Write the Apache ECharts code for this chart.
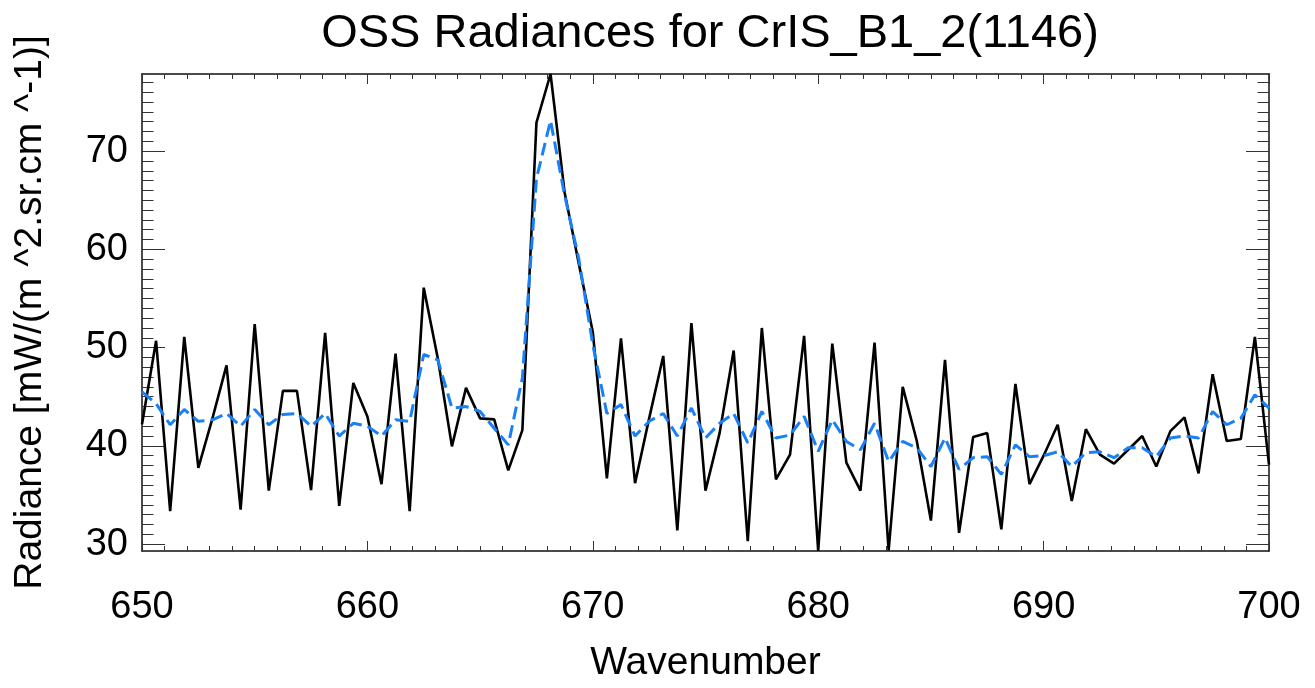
<!DOCTYPE html>
<html>
<head>
<meta charset="utf-8">
<script src="https://cdn.jsdelivr.net/npm/echarts@6/dist/echarts.min.js"></script>
<style>
  html, body { margin: 0; padding: 0; background: #fff; }
  #chart { width: 1315px; height: 688px; }
</style>
</head>
<body>
<div id="chart"></div>
<script>
// CrIS band 1 channel grid (cm^-1)
const wavenumbers = [
  650, 650.625, 651.25, 651.875, 652.5, 653.125, 653.75, 654.375, 655, 655.625, 656.25, 656.875, 657.5, 658.125, 658.75, 659.375,
  660, 660.625, 661.25, 661.875, 662.5, 663.125, 663.75, 664.375, 665, 665.625, 666.25, 666.875, 667.5, 668.125, 668.75, 669.375,
  670, 670.625, 671.25, 671.875, 672.5, 673.125, 673.75, 674.375, 675, 675.625, 676.25, 676.875, 677.5, 678.125, 678.75, 679.375,
  680, 680.625, 681.25, 681.875, 682.5, 683.125, 683.75, 684.375, 685, 685.625, 686.25, 686.875, 687.5, 688.125, 688.75, 689.375,
  690, 690.625, 691.25, 691.875, 692.5, 693.125, 693.75, 694.375, 695, 695.625, 696.25, 696.875, 697.5, 698.125, 698.75, 699.375,
  700
];

// Observed radiances (solid black)
const radianceObs = [
  42.2, 50.7, 33.35, 51.1, 37.75, 42.8, 48.2, 33.5, 52.4, 35.45, 45.6, 45.6, 35.5, 51.5, 33.9, 46.4,
  43.0, 36.1, 49.4, 33.35, 56.1, 48.9, 39.95, 45.9, 42.8, 42.7, 37.5, 41.6, 72.9, 77.85, 65.8, 58.6,
  51.6, 36.7, 50.95, 36.2, 42.8, 49.15, 31.4, 52.5, 35.45, 41.3, 49.7, 30.3, 52.0, 36.6, 39.1, 51.2,
  29.3, 50.4, 38.3, 35.45, 50.5, 29.35, 46.0, 40.5, 32.4, 48.75, 31.15, 40.9, 41.3, 31.5, 46.3, 36.1,
  39.0, 42.15, 34.4, 41.7, 39.1, 38.2, 39.6, 41.0, 37.9, 41.5, 42.9, 37.2, 47.3, 40.5, 40.7, 51.1,
  38.1
];

// OSS simulated radiances (dashed blue)
const radianceOss = [
  45.5, 44.3, 42.15, 43.7, 42.5, 42.65, 43.3, 42.0, 43.7, 42.15, 43.2, 43.3, 42.0, 43.3, 41.0, 42.3,
  42.0, 41.0, 42.65, 42.5, 49.3, 48.75, 43.85, 44.0, 43.5, 41.8, 40.1, 46.9, 67.2, 73.1, 65.5, 59.1,
  50.3, 43.3, 44.2, 41.0, 42.5, 43.3, 41.0, 43.85, 40.8, 42.3, 43.3, 40.3, 43.5, 40.8, 41.1, 43.0,
  39.45, 42.65, 40.45, 39.6, 42.3, 38.4, 40.45, 39.8, 37.9, 40.8, 37.6, 38.8, 38.9, 37.1, 40.1, 38.9,
  39.0, 39.4, 37.9, 39.3, 39.4, 38.8, 39.8, 39.8, 38.9, 40.8, 41.0, 40.8, 43.5, 42.15, 42.8, 45.2,
  43.85
];

const yMajorTicks = [30, 40, 50, 60, 70];
const yMinorTicks = [30, 31, 32, 33, 34, 35, 36, 37, 38, 39, 40, 41, 42, 43, 44, 45, 46, 47, 48, 49,
  50, 51, 52, 53, 54, 55, 56, 57, 58, 59, 60, 61, 62, 63, 64, 65, 66, 67, 68, 69, 70, 71, 72, 73, 74, 75, 76, 77];

const FONT = 'Liberation Sans';
const yMin = Math.min(...radianceObs);
const yMax = Math.max(...radianceObs);

const chart = echarts.init(document.getElementById('chart'), null, { renderer: 'canvas' });

function yAxisDef(position, ticks, len, withLabels, withLine) {
  return {
    type: 'value',
    position: position,
    min: yMin,
    max: yMax,
    axisLine: { show: withLine, lineStyle: { color: '#111', width: 1.5 } },
    axisTick: { show: true, inside: true, length: len, customValues: ticks, lineStyle: { color: '#333', width: 1 } },
    axisLabel: withLabels
      ? { show: true, customValues: ticks, fontFamily: FONT, fontSize: 38, color: '#000', margin: 14 }
      : { show: false },
    splitLine: { show: false }
  };
}

const yAxes = [
  Object.assign(yAxisDef('left', yMajorTicks, 23, true, true), {
    name: 'Radiance [mW/(m ^2.sr.cm ^-1)]',
    nameLocation: 'middle',
    nameGap: 92,
    nameRotate: 90,
    nameTextStyle: { fontFamily: FONT, fontSize: 39, color: '#000' }
  }),
  yAxisDef('left', yMinorTicks, 11.5, false, false),
  yAxisDef('right', yMajorTicks, 23, false, true),
  yAxisDef('right', yMinorTicks, 11.5, false, false)
];

function xAxisDef(position, withLabels) {
  return {
    type: 'value',
    position: position,
    min: 650,
    max: 700,
    interval: 10,
    axisLine: { show: true, onZero: false, lineStyle: { color: '#111', width: 1.5 } },
    axisTick: { show: true, inside: true, length: 10, lineStyle: { color: '#333', width: 1 } },
    minorTick: { show: true, splitNumber: 10, length: 5, lineStyle: { color: '#333', width: 1 } },
    axisLabel: withLabels
      ? { show: true, fontFamily: FONT, fontSize: 38, color: '#000', margin: 38 }
      : { show: false },
    splitLine: { show: false },
    minorSplitLine: { show: false }
  };
}

const option = {
  backgroundColor: '#fff',
  animation: false,
  title: {
    text: 'OSS Radiances for CrIS_B1_2(1146)',
    left: 705,
    textAlign: 'center',
    top: 6,
    textStyle: { fontFamily: FONT, fontSize: 47, fontWeight: 'normal', color: '#000' }
  },
  grid: { left: 142, right: 46, top: 74, bottom: 136, containLabel: false },
  xAxis: [
    Object.assign(xAxisDef('bottom', true), {
      name: 'Wavenumber',
      nameLocation: 'middle',
      nameGap: 93,
      nameTextStyle: { fontFamily: FONT, fontSize: 39, color: '#000' }
    }),
    xAxisDef('top', false)
  ],
  yAxis: yAxes,
  series: [
    {
      name: 'Observed',
      type: 'line',
      xAxisIndex: 0,
      yAxisIndex: 0,
      data: wavenumbers.map((w, i) => [w, radianceObs[i]]),
      showSymbol: false,
      symbol: 'none',
      lineStyle: { color: '#000', width: 2.6 },
      clip: true
    },
    {
      name: 'OSS',
      type: 'line',
      xAxisIndex: 0,
      yAxisIndex: 0,
      data: wavenumbers.map((w, i) => [w, radianceOss[i]]),
      showSymbol: false,
      symbol: 'none',
      lineStyle: { color: '#1a80f5', width: 3, type: [13, 6] },
      clip: true
    }
  ]
};

chart.setOption(option);
</script>
</body>
</html>
